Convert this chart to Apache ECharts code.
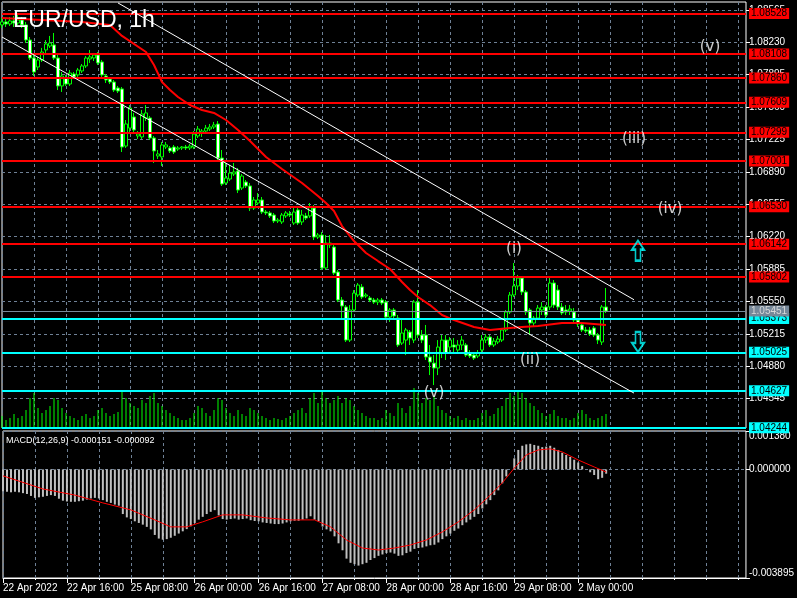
<!DOCTYPE html>
<html><head><meta charset="utf-8">
<script src="https://cdn.jsdelivr.net/npm/echarts@6/dist/echarts.min.js"></script>
<style>html,body{margin:0;padding:0;background:#000;}#c{width:797px;height:598px;}</style>
</head><body><div id="c"></div>
<script>
// ---------- DATA ----------
const tickLabels = ['22 Apr 2022','22 Apr 16:00','25 Apr 08:00','26 Apr 00:00','26 Apr 16:00','27 Apr 08:00','28 Apr 00:00','28 Apr 16:00','29 Apr 08:00','2 May 00:00'];
const totalSlots = 187; // 152 hourly bars + chart shift
// [open, close, low, high]
const candles = [
[1.08409,1.08440,1.08377,1.08481],[1.08440,1.08419,1.08388,1.08471],[1.08419,1.08450,1.08398,1.08491],[1.08450,1.08429,1.08388,1.08502],
[1.08429,1.08460,1.08409,1.08522],[1.08460,1.08409,1.08377,1.08491],[1.08409,1.08253,1.08222,1.08440],[1.08253,1.08067,1.08047,1.08284],
[1.08067,1.07922,1.07881,1.08098],[1.07974,1.08047,1.07943,1.08078],[1.08047,1.08129,1.08026,1.08171],[1.08150,1.08212,1.08119,1.08253],
[1.08191,1.08222,1.08171,1.08295],[1.08202,1.08067,1.08047,1.08326],[1.08067,1.07778,1.07736,1.08098],[1.07778,1.07881,1.07716,1.07922],
[1.07860,1.07798,1.07778,1.07892],[1.07798,1.07912,1.07778,1.07943],[1.07902,1.07871,1.07850,1.07922],[1.07892,1.07943,1.07871,1.07964],
[1.07933,1.07985,1.07912,1.08005],[1.07985,1.08067,1.07964,1.08088],[1.08057,1.08078,1.08016,1.08150],[1.08067,1.08098,1.08036,1.08119],
[1.08098,1.08016,1.07995,1.08129],[1.08026,1.07892,1.07871,1.08047],[1.07881,1.07840,1.07809,1.07902],[1.07850,1.07819,1.07798,1.07871],
[1.07819,1.07736,1.07716,1.07840],[1.07757,1.07726,1.07705,1.07778],[1.07747,1.07147,1.07095,1.07767],[1.07157,1.07385,1.07137,1.07426],
[1.07343,1.07550,1.07302,1.07581],[1.07457,1.07323,1.07302,1.07499],[1.07261,1.07281,1.07230,1.07312],[1.07251,1.07488,1.07230,1.07530],
[1.07447,1.07499,1.07416,1.07581],[1.07447,1.07240,1.07219,1.07468],[1.07240,1.07106,1.06982,1.07261],[1.07054,1.07075,1.07023,1.07116],
[1.07044,1.07168,1.06951,1.07199],[1.07147,1.07168,1.07126,1.07199],[1.07137,1.07106,1.07085,1.07157],[1.07147,1.07095,1.07075,1.07168],
[1.07126,1.07137,1.07106,1.07157],[1.07137,1.07147,1.07116,1.07157],[1.07147,1.07137,1.07116,1.07168],[1.07137,1.07157,1.07116,1.07178],
[1.07147,1.07281,1.07126,1.07312],[1.07261,1.07333,1.07240,1.07364],[1.07292,1.07312,1.07251,1.07333],[1.07312,1.07343,1.07292,1.07375],
[1.07333,1.07354,1.07312,1.07385],[1.07354,1.07375,1.07333,1.07406],[1.07385,1.07033,1.07013,1.07416],[1.07033,1.06764,1.06744,1.07116],
[1.06775,1.06826,1.06754,1.06982],[1.06816,1.06878,1.06795,1.06961],[1.06868,1.06889,1.06847,1.06982],[1.06899,1.06702,1.06671,1.06930],
[1.06723,1.06847,1.06702,1.06868],[1.06785,1.06744,1.06723,1.06806],[1.06744,1.06516,1.06485,1.06775],[1.06516,1.06599,1.06496,1.06630],
[1.06568,1.06599,1.06547,1.06671],[1.06599,1.06475,1.06454,1.06630],[1.06475,1.06465,1.06444,1.06496],[1.06465,1.06434,1.06413,1.06485],
[1.06444,1.06382,1.06361,1.06465],[1.06382,1.06392,1.06361,1.06413],[1.06372,1.06444,1.06351,1.06465],[1.06434,1.06465,1.06413,1.06485],
[1.06454,1.06444,1.06423,1.06485],[1.06361,1.06475,1.06341,1.06516],[1.06496,1.06361,1.06341,1.06527],[1.06372,1.06444,1.06341,1.06496],
[1.06434,1.06413,1.06392,1.06465],[1.06434,1.06527,1.06413,1.06568],[1.06516,1.06216,1.06185,1.06547],[1.06216,1.06237,1.06196,1.06258],
[1.06237,1.05896,1.05875,1.06268],[1.05896,1.06154,1.05875,1.06237],[1.06134,1.06154,1.06103,1.06237],[1.06113,1.05844,1.05824,1.06154],
[1.05855,1.05565,1.05544,1.05875],[1.05565,1.05503,1.05358,1.05596],[1.05493,1.05151,1.05131,1.05513],[1.05151,1.05462,1.05131,1.05513],
[1.05462,1.05637,1.05441,1.05668],[1.05617,1.05720,1.05596,1.05741],[1.05700,1.05596,1.05575,1.05730],[1.05606,1.05617,1.05586,1.05637],
[1.05586,1.05565,1.05544,1.05606],[1.05565,1.05544,1.05524,1.05586],[1.05544,1.05565,1.05513,1.05586],[1.05565,1.05534,1.05513,1.05586],
[1.05544,1.05389,1.05358,1.05565],[1.05389,1.05462,1.05338,1.05482],[1.05462,1.05400,1.05379,1.05482],[1.05379,1.05100,1.05079,1.05410],
[1.05120,1.05224,1.05100,1.05379],[1.05151,1.05255,1.04996,1.05276],[1.05234,1.05172,1.05100,1.05255],[1.05151,1.05544,1.05120,1.05565],
[1.05544,1.05203,1.05172,1.05668],[1.05203,1.05151,1.05120,1.05255],[1.05203,1.04976,1.04945,1.05307],[1.04976,1.04924,1.04789,1.05100],
[1.04913,1.04862,1.04686,1.04996],[1.04862,1.05079,1.04789,1.05151],[1.05017,1.05151,1.04965,1.05203],[1.05151,1.05017,1.04945,1.05203],
[1.05079,1.05151,1.05027,1.05182],[1.05100,1.05079,1.05027,1.05172],[1.05048,1.05100,1.05017,1.05151],[1.05100,1.05151,1.05048,1.05193],
[1.05100,1.04996,1.04976,1.05120],[1.05017,1.04986,1.04965,1.05048],[1.04996,1.04965,1.04945,1.05027],[1.04986,1.05017,1.04965,1.05048],
[1.05048,1.05151,1.05027,1.05203],[1.05151,1.05182,1.05120,1.05213],[1.05182,1.05100,1.05079,1.05203],[1.05100,1.05141,1.05079,1.05172],
[1.05131,1.05162,1.05110,1.05193],[1.05151,1.05255,1.05131,1.05276],[1.05255,1.05441,1.05234,1.05462],[1.05441,1.05617,1.05420,1.05648],
[1.05617,1.05710,1.05596,1.05948],[1.05710,1.05792,1.05668,1.05824],[1.05792,1.05648,1.05617,1.05813],[1.05648,1.05441,1.05410,1.05668],
[1.05462,1.05327,1.05203,1.05482],[1.05327,1.05379,1.05296,1.05400],[1.05379,1.05482,1.05358,1.05513],[1.05462,1.05493,1.05410,1.05544],
[1.05493,1.05410,1.05379,1.05513],[1.05493,1.05741,1.05462,1.05792],[1.05741,1.05513,1.05482,1.05772],[1.05668,1.05493,1.05462,1.05720],
[1.05493,1.05431,1.05410,1.05534],[1.05462,1.05441,1.05410,1.05513],[1.05451,1.05472,1.05410,1.05513],[1.05441,1.05358,1.05338,1.05482],
[1.05358,1.05317,1.05286,1.05379],[1.05307,1.05255,1.05234,1.05338],[1.05255,1.05244,1.05224,1.05286],[1.05255,1.05213,1.05193,1.05286],
[1.05276,1.05203,1.05182,1.05296],[1.05203,1.05151,1.05110,1.05224],[1.05131,1.05493,1.05100,1.05513],[1.05493,1.05451,1.05431,1.05689]
];
const volumes = [
1800,1200,1500,2100,1500,1800,2700,
4500,5250,3000,2250,2700,3300,4500,4200,
3000,2250,1800,1500,1200,1800,2100,1500,
1800,2700,3000,2250,1800,2100,2400,
5700,4500,3750,3300,3000,4200,3750,4800,
5250,3750,3300,2700,2250,1800,1500,1200,
1200,1500,2250,3300,3000,2250,1800,2700,
4500,4200,3000,2250,1800,2700,2100,1800,
3000,2700,2250,1800,1500,1200,1500,1350,
1200,1500,1800,2250,2700,3000,2250,4500,
5250,3750,5700,4500,3750,4200,4800,3750,
4500,4200,3300,2700,2250,1800,1500,1500,
1200,1500,2700,2250,1800,3750,3000,2250,
3300,6000,5250,3750,4500,4200,4800,3300,
2700,2250,1800,1500,1800,1200,1500,1200,
1200,1500,2250,2700,1800,2100,3000,3300,
4500,5250,4800,5700,5250,4500,3750,3300,
2700,2250,1800,2100,2700,1800,1500,1500,
1200,1500,2250,2700,2100,1500,1200,1500,1800,2100
];
// moving average: [bar index, price]
const maPoints = [[0,1.08481],[10,1.08460],[20,1.08440],[27,1.08409],[30,1.08295],[36,1.08129],[38,1.07995],[40,1.07819],[42,1.07736],[44,1.07664],[47,1.07581],[50,1.07530],[53,1.07499],[56,1.07426],[59,1.07323],[62,1.07209],[66,1.07044],[70,1.06920],[75,1.06775],[79,1.06640],[81,1.06568],[83,1.06485],[85,1.06330],[88,1.06175],[91,1.06051],[94,1.05968],[97,1.05886],[100,1.05751],[102,1.05668],[104,1.05596],[107,1.05513],[110,1.05410],[113,1.05358],[118,1.05286],[122,1.05255],[127,1.05276],[130,1.05286],[134,1.05296],[140,1.05327],[145,1.05327],[151,1.05307]];
const macdHist = [
-0.00078,-0.00080,-0.00082,-0.00080,-0.00082,-0.00085,-0.00088,-0.00095,-0.00102,-0.00100,
-0.00098,-0.00095,-0.00092,-0.00095,-0.00105,-0.00112,-0.00115,-0.00116,-0.00116,-0.00114,
-0.00112,-0.00108,-0.00104,-0.00102,-0.00104,-0.00110,-0.00116,-0.00120,-0.00126,-0.00130,
-0.00160,-0.00172,-0.00178,-0.00186,-0.00192,-0.00198,-0.00206,-0.00215,-0.00235,-0.00248,
-0.00252,-0.00250,-0.00245,-0.00238,-0.00230,-0.00222,-0.00214,-0.00204,-0.00192,-0.00180,
-0.00170,-0.00160,-0.00152,-0.00146,-0.00165,-0.00178,-0.00180,-0.00178,-0.00176,-0.00180,
-0.00178,-0.00176,-0.00182,-0.00185,-0.00186,-0.00190,-0.00192,-0.00194,-0.00196,-0.00196,
-0.00194,-0.00190,-0.00186,-0.00184,-0.00184,-0.00180,-0.00176,-0.00168,-0.00180,-0.00186,
-0.00205,-0.00215,-0.00222,-0.00240,-0.00265,-0.00290,-0.00320,-0.00335,-0.00340,-0.00345,
-0.00340,-0.00335,-0.00325,-0.00318,-0.00310,-0.00305,-0.00300,-0.00298,-0.00302,-0.00310,
-0.00308,-0.00300,-0.00295,-0.00285,-0.00282,-0.00280,-0.00276,-0.00272,-0.00270,-0.00262,
-0.00250,-0.00240,-0.00230,-0.00220,-0.00212,-0.00200,-0.00190,-0.00180,-0.00170,-0.00160,
-0.00140,-0.00125,-0.00110,-0.00092,-0.00075,-0.00050,-0.00025,0.00000,0.00040,0.00070,
0.00085,0.00090,0.00092,0.00088,0.00085,0.00080,0.00082,0.00085,0.00078,0.00070,
0.00060,0.00052,0.00045,0.00035,0.00025,0.00012,0.00000,-0.00010,-0.00020,-0.00035,-0.00030,-0.000151
];
const macdSignal = [[0,-0.00023],[10,-0.00070],[18,-0.00092],[25,-0.00120],[32,-0.00145],[38,-0.00181],[42,-0.00206],[46,-0.00206],[50,-0.00188],[55,-0.00163],[60,-0.00163],[66,-0.00174],[72,-0.00181],[78,-0.00181],[82,-0.00206],[86,-0.00253],[90,-0.00282],[94,-0.00289],[98,-0.00282],[102,-0.00271],[106,-0.00253],[110,-0.00224],[114,-0.00188],[118,-0.00145],[122,-0.00092],[125,-0.00048],[128,0.00005],[131,0.00052],[134,0.00070],[137,0.00074],[140,0.00063],[144,0.00034],[148,0.00009],[151,-0.000092]];
const redLevels = [1.08528,1.08108,1.07860,1.07609,1.07299,1.07001,1.06530,1.06142,1.05802];
const cyanLevels = [1.05373,1.05025,1.04627,1.04244];
const bidPrice = 1.05451;
const priceTicks = [1.08565,1.08230,1.07895,1.07560,1.07225,1.06890,1.06555,1.06220,1.05885,1.05550,1.05215,1.04880,1.04545];
const priceRange = [1.04242,1.08646];
const macdRange = [-0.003895,0.00138];
const macdTicks = [-0.003895,0,0.00138];
const channelLines = [[[29,1.08636],[158,1.05568]],[[0,1.08284],[158,1.04603]],[[0,1.07302],[129,1.04231]]];
const waveLabels = [['(v)',177,1.08181],['(iii)',158,1.07230],['(iv)',167,1.06506],['(i)',128,1.06092],['(ii)',132,1.04945],['(v)',108,1.04603]];
const arrowMarks = [['up',159,1.06076],['down',159,1.05131]];
const titleText = 'EUR/USD, 1h';
const macdText = 'MACD(12,26,9) -0.000151 -0.000092';

// ---------- CHART ----------
const slots = Array.from({length: totalSlots}, (_, i) => 'b' + i);
const FONT = 'Liberation Sans';
const gridLine = {show:true, lineStyle:{color:'#6f8196', type:[3,3], width:1}};
const upPath = 'path://M6,0 L12,9 L8.5,9 L8.5,20 L3.5,20 L3.5,9 L0,9 Z';
const downPath = 'path://M3.5,0 L8.5,0 L8.5,11 L12,11 L6,20 L0,11 L3.5,11 Z';
const lvlLabel = (bg, fg) => ({show:true, position:'end', distance:3, formatter: p => Number(p.value).toFixed(5), backgroundColor:bg, color:fg, fontSize:10, fontFamily:FONT, padding:[1,2,0,2], lineHeight:10});
const levelData = [
  ...redLevels.map(v => ({yAxis:v, lineStyle:{color:'#ff0000', width:2, type:'solid'}, label:lvlLabel('#ff0000','#000')})),
  ...cyanLevels.map(v => ({yAxis:v, lineStyle:{color:'#00ffff', width:2, type:'solid'}, label:lvlLabel('#00ffff','#000')})),
  {yAxis:bidPrice, lineStyle:{color:'#778899', width:1, type:'solid'}, label:lvlLabel('#778899','#d8d8d8')}
];
const chanData = channelLines.map(l => [
  {coord:l[0], lineStyle:{color:'#fff', width:1, type:'solid'}, label:{show:false}},
  {coord:l[1]}
]);
const isLabelIdx = (i) => i%16===0 && i/16 < tickLabels.length;
const isMinorIdx = (i) => i%8===0 && !isLabelIdx(i);

const chart = echarts.init(document.getElementById('c'));
chart.setOption({
  animation:false,
  backgroundColor:'#000',
  grid:[
    {left:2, top:2, width:744, height:426, show:true, borderColor:'#fff', borderWidth:1},
    {left:2, top:431, width:744, height:147, show:true, borderColor:'#fff', borderWidth:1}
  ],
  xAxis:[
    {type:'category', gridIndex:0, data:slots, boundaryGap:false, axisLine:{show:false, onZero:false}, axisTick:{show:false}, axisLabel:{show:false},
     splitLine:{...gridLine, interval:(i)=> i%8===0}},
    {type:'category', gridIndex:1, data:slots, boundaryGap:false, position:'bottom',
     axisLine:{show:true, onZero:false, lineStyle:{color:'#fff'}},
     axisTick:{show:true, length:5, lineStyle:{color:'#fff'}, interval:isLabelIdx},
     axisLabel:{show:true, color:'#fff', fontSize:10, fontFamily:FONT, align:'left', margin:5,
       interval:isLabelIdx,
       formatter:(v,i)=> isLabelIdx(i) ? tickLabels[i/16] : ''},
     splitLine:{...gridLine, interval:(i)=> i%8===0}},
    {type:'category', gridIndex:1, data:slots, boundaryGap:false, position:'bottom',
     axisLine:{show:false, onZero:false}, axisLabel:{show:false}, splitLine:{show:false},
     axisTick:{show:true, length:2, lineStyle:{color:'#fff'}, interval:isMinorIdx}}
  ],
  yAxis:[
    {type:'value', gridIndex:0, position:'right', min:priceRange[0], max:priceRange[1], scale:true,
     axisLine:{show:false}, axisTick:{show:true, length:4, lineStyle:{color:'#fff'}, customValues:priceTicks},
     axisLabel:{show:true, color:'#fff', fontSize:10, fontFamily:FONT, margin:3, customValues:priceTicks, formatter:v=>v.toFixed(5)},
     splitLine:gridLine},
    {type:'value', gridIndex:0, min:0, max:64000, show:false},
    {type:'value', gridIndex:1, position:'right', min:macdRange[0], max:macdRange[1],
     axisLine:{show:false}, axisTick:{show:true, length:4, lineStyle:{color:'#fff'}, customValues:macdTicks},
     axisLabel:{show:true, color:'#fff', fontSize:10, fontFamily:FONT, margin:3, customValues:macdTicks, formatter:v=>v.toFixed(6),
       verticalAlignMaxLabel:'top', verticalAlignMinLabel:'bottom'},
     splitLine:gridLine}
  ],
  graphic:[
    {type:'text', left:13, top:9, style:{text:titleText, fill:'#fff', font:'23px "Liberation Sans"'}, z:100},
    {type:'text', left:6, top:436, style:{text:macdText, fill:'#fff', font:'9px "Liberation Sans"'}, z:100}
  ],
  series:[
    {type:'bar', xAxisIndex:0, yAxisIndex:1, data:volumes, barWidth:1, itemStyle:{color:'#00ff00'}, silent:true},
    {type:'candlestick', xAxisIndex:0, yAxisIndex:0, data:candles, barWidth:3,
     itemStyle:{color:'#000', color0:'#fff', borderColor:'#00ff00', borderColor0:'#00ff00', borderColorDoji:'#00ff00', borderWidth:1},
     markLine:{silent:true, precision:5, symbol:['none','none'], animation:false, data:[...levelData, ...chanData]}},
    {type:'line', xAxisIndex:0, yAxisIndex:0, data:maPoints, showSymbol:false, lineStyle:{color:'#ff0000', width:2}, z:3},
    {type:'scatter', xAxisIndex:0, yAxisIndex:0, data:waveLabels.map(w=>({name:w[0], value:[w[1],w[2]]})), symbolSize:1, itemStyle:{color:'transparent'},
     label:{show:true, position:'inside', formatter:'{b}', color:'#fff', fontSize:15, fontFamily:'DejaVu Sans'}, z:5},
    {type:'scatter', xAxisIndex:0, yAxisIndex:0, data:arrowMarks.map(a=>({value:[a[1],a[2]], symbol: a[0]==='up'?upPath:downPath})), symbolSize:[12,20],
     itemStyle:{color:'transparent', borderColor:'#00ffff', borderWidth:2}, z:5},
    {type:'bar', xAxisIndex:1, yAxisIndex:2, data:macdHist, barWidth:2, itemStyle:{color:'#c0c0c0'}},
    {type:'line', xAxisIndex:1, yAxisIndex:2, data:macdSignal, showSymbol:false, lineStyle:{color:'#ff0000', width:1}, z:3}
  ]
});
</script></body></html>
